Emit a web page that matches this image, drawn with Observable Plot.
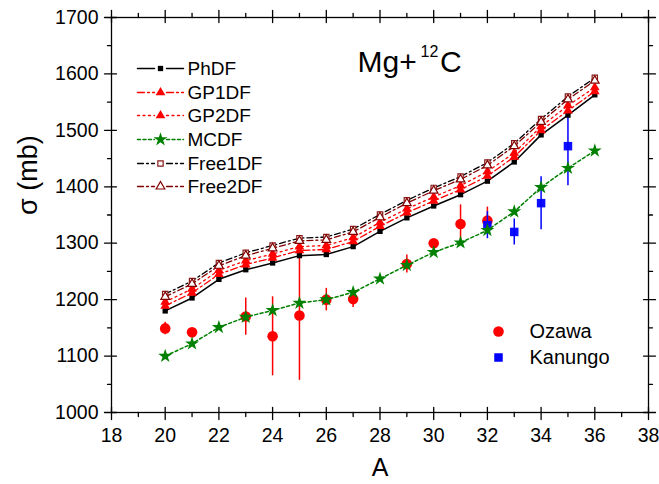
<!DOCTYPE html>
<html><head><meta charset="utf-8">
<script src="https://cdn.jsdelivr.net/npm/d3@7"></script>
<script src="https://cdn.jsdelivr.net/npm/@observablehq/plot@0.6"></script>
<style>body{margin:0;background:#fff} svg{display:block}</style>
</head><body><div id="chart"></div>
<script>
// ---- data ----
const massNumbers = [20,21,22,23,24,25,26,27,28,29,30,31,32,33,34,35,36];
const PhDF    = [1180,1203,1236,1253,1265,1278,1280,1294,1321,1345,1366,1386,1410,1444,1492,1527,1563];
const GP1DF   = [1189,1212,1245,1262,1274,1287,1289,1303,1330,1354,1375,1395,1419,1453,1500,1535,1569];
const GP2DF   = [1196,1219,1252,1269,1281,1294,1296,1310,1337,1361,1382,1402,1427,1460,1507,1544,1576];
const MCDF    = [1100,1122,1151,1169,1181,1194,1200,1213,1237,1261,1284,1301,1323,1356,1399,1433,1464];
const Free1DF = [1210,1233,1265,1283,1296,1309,1311,1325,1351,1376,1398,1418,1443,1477,1520,1560,1593];
const Free2DF = [1205,1228,1260,1278,1291,1304,1306,1320,1346,1371,1393,1413,1438,1472,1515,1555,1588];

const ozawaA     = [20,21,23,24,25,26,27,29,30,31,32];
const ozawaSigma = [1149,1142,1170,1135,1172,1200,1201,1263,1300,1334,1340];
const ozawaErr   = [11,4,33,70,115,20,15,16,6,34,24];

const kanungoA     = [32,33,34,35];
const kanungoSigma = [1332,1320,1371,1472];
const kanungoErr   = [24,23,47,70];

const xTicks = [18,20,22,24,26,28,30,32,34,36,38];
const xMinor = [19,21,23,25,27,29,31,33,35,37];
const yTicks = [1000,1100,1200,1300,1400,1500,1600,1700];
const yMinor = [1050,1150,1250,1350,1450,1550,1650];

const seriesNames = ["PhDF","GP1DF","GP2DF","MCDF","Free1DF","Free2DF"];
const seriesValues = [PhDF, GP1DF, GP2DF, MCDF, Free1DF, Free2DF];

// ---- styles ----
const styles = {
  PhDF:    {stroke:"black",   dash:null,        width:1.5, symbol:"square",   fill:"black",   mstroke:"none",    r:3.0},
  GP1DF:   {stroke:"red",     dash:"7,3,2,3",   width:1.3, symbol:"triangle", fill:"red",     mstroke:"none",    r:3.6},
  GP2DF:   {stroke:"red",     dash:"2,3.5",     width:1.3, symbol:"triangle", fill:"red",     mstroke:"none",    r:3.6},
  MCDF:    {stroke:"#008000", dash:"3,2.5",     width:1.5, symbol:"star",     fill:"#008000", mstroke:"none",    r:4.4},
  Free1DF: {stroke:"black",   dash:"6,3,2,3",   width:1.3, symbol:"square",   fill:"white",   mstroke:"#8b1a1a", r:3.0},
  Free2DF: {stroke:"#800000", dash:"6,3,2,3",   width:1.3, symbol:"triangle", fill:"white",   mstroke:"#800000", r:3.2}
};
const FONT = "Liberation Sans, Arial, Helvetica, sans-serif";

// ---- tables ----
const theory = seriesNames.map((name, s) => massNumbers.map((a, i) => ({A: a, sigma: seriesValues[s][i], name})));
const ozawa = ozawaA.map((a, i) => ({A: a, sigma: ozawaSigma[i], err: ozawaErr[i]}));
const kanungo = kanungoA.map((a, i) => ({A: a, sigma: kanungoSigma[i], err: kanungoErr[i]}));

// ---- tick helper ----
const tickShape = (out, inn) => ({draw(c){ c.moveTo(0, out); c.lineTo(0, -inn); }});
function ticks(values, side, out, inn) {
  const rot = {bottom:0, top:180, left:90, right:-90}[side];
  const ch = (side === "bottom" || side === "top") ? {x: d => d} : {y: d => d};
  return Plot.vector(values, {...ch, frameAnchor: side, rotate: rot, length: 1, anchor: "start",
    shape: tickShape(out, inn), stroke: "black", strokeWidth: 1.3});
}

const marks = [];
// experimental
marks.push(Plot.ruleX(ozawa, {x:"A", y1: d => d.sigma - d.err, y2: d => d.sigma + d.err, stroke:"red", strokeWidth:1.5}));
marks.push(Plot.dot(ozawa, {x:"A", y:"sigma", r:5.3, fill:"red"}));
marks.push(Plot.ruleX(kanungo, {x:"A", y1: d => d.sigma - d.err, y2: d => d.sigma + d.err, stroke:"blue", strokeWidth:1.5}));
marks.push(Plot.dot(kanungo, {x:"A", y:"sigma", symbol:"square", r:4.8, fill:"blue", fillOpacity:0.95}));

// theory lines
theory.forEach(data => {
  const st = styles[data[0].name];
  marks.push(Plot.line(data, {x:"A", y:"sigma", stroke: st.stroke, strokeWidth: st.width, strokeDasharray: st.dash}));
});
theory.forEach(data => {
  const st = styles[data[0].name];
  marks.push(Plot.dot(data, {x:"A", y:"sigma", symbol: st.symbol, r: st.r, fill: st.fill, stroke: st.mstroke, strokeWidth: 1.2}));
});

// frame + ticks
marks.push(Plot.frame({stroke:"black", strokeWidth:1.3}));
marks.push(ticks(xTicks, "bottom", 7, 5), ticks(xMinor, "bottom", 4, 0));
marks.push(ticks(xTicks, "top", 7, 5), ticks(xMinor, "top", 4, 0));
marks.push(ticks(yTicks, "left", 7, 5), ticks(yMinor, "left", 4, 0));
marks.push(ticks(yTicks, "right", 7, 5), ticks(yMinor, "right", 4, 0));

// tick labels
marks.push(Plot.text(xTicks, {x: d => d, text: d => String(d), frameAnchor:"bottom", dy:16, lineAnchor:"top", fontSize:19.5, fill:"black"}));
marks.push(Plot.text(yTicks, {y: d => d, text: d => String(d), frameAnchor:"left", dx:-13, textAnchor:"end", lineAnchor:"middle", fontSize:19.5, fill:"black"}));

// axis titles
marks.push(Plot.text(["A"], {frameAnchor:"bottom", dy:55, text: d => d, fontSize:25, lineAnchor:"middle"}));
marks.push(Plot.text(["σ (mb)"], {frameAnchor:"left", dx:-83, text: d => d, fontSize:27, rotate:-90, lineAnchor:"middle"}));

// title Mg+12C
marks.push(Plot.text(["Mg+"], {frameAnchor:"top-left", dx:246, dy:54.5, text: d => d, fontSize:30, textAnchor:"start", lineAnchor:"bottom"}));
marks.push(Plot.text(["12"], {frameAnchor:"top-left", dx:309, dy:39, text: d => d, fontSize:16, textAnchor:"start", lineAnchor:"bottom"}));
marks.push(Plot.text(["C"], {frameAnchor:"top-left", dx:328.5, dy:54.5, text: d => d, fontSize:30, textAnchor:"start", lineAnchor:"bottom"}));

// legend (theory)
const legRowDy = [51, 75, 98, 122, 146, 169];
const gapShape = {draw(c, l){ c.moveTo(0,0); c.lineTo(0,-(l/2-6)); c.moveTo(0,-(l/2+6)); c.lineTo(0,-l); }};
seriesNames.forEach((name, k) => {
  const st = styles[name];
  const dy = legRowDy[k];
  marks.push(Plot.vector([name], {frameAnchor:"top-left", dx:26, dy, rotate:90, length:46, anchor:"start",
    shape: gapShape, stroke: st.stroke, strokeWidth: st.width, strokeDasharray: st.dash}));
  marks.push(Plot.dot([name], {frameAnchor:"top-left", dx:49, dy, symbol: st.symbol, r: st.r, fill: st.fill, stroke: st.mstroke, strokeWidth:1.2}));
  marks.push(Plot.text([name], {frameAnchor:"top-left", dx:76, dy, text: d => d, fontSize:19, textAnchor:"start", lineAnchor:"middle"}));
});
// legend (experiment)
marks.push(Plot.dot(["Ozawa"], {frameAnchor:"top-left", dx:387, dy:314, r:5.3, fill:"red"}));
marks.push(Plot.text(["Ozawa"], {frameAnchor:"top-left", dx:418, dy:314, text: d => d, fontSize:20, textAnchor:"start", lineAnchor:"middle"}));
marks.push(Plot.dot(["Kanungo"], {frameAnchor:"top-left", dx:387, dy:340, symbol:"square", r:4.8, fill:"blue"}));
marks.push(Plot.text(["Kanungo"], {frameAnchor:"top-left", dx:418, dy:340, text: d => d, fontSize:20, textAnchor:"start", lineAnchor:"middle"}));

const chart = Plot.plot({
  width: 659, height: 484,
  marginLeft: 111, marginRight: 11, marginTop: 17, marginBottom: 72,
  x: {domain: [18, 38], axis: null},
  y: {domain: [1000, 1700], axis: null},
  style: {fontFamily: FONT, background: "white", color: "black", overflow: "visible"},
  marks
});
document.getElementById("chart").appendChild(chart);
</script>
</body></html>
